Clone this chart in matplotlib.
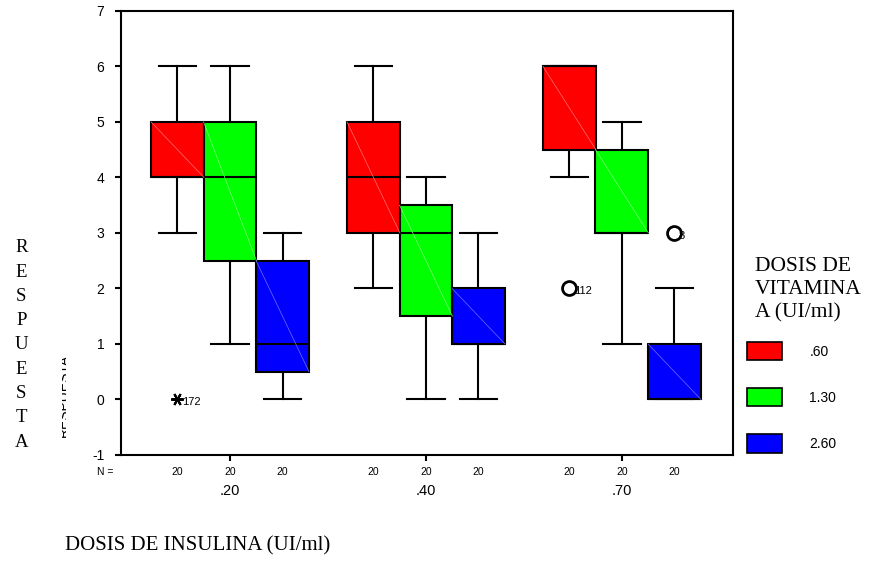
import matplotlib
matplotlib.use("Agg")
import matplotlib.pyplot as plt
from matplotlib.patches import Patch
from matplotlib.transforms import Bbox, blended_transform_factory

# datos
insulina = ['.20', '.40', '.70']
vitamina = ['.60', '1.30', '2.60']
colores = ['#ff0000', '#00ff00', '#0000ff']
diag = ['#ff7070', '#80ff80', '#7070ff']
n_casos = [[20, 20, 20], [20, 20, 20], [20, 20, 20]]

# (whislo, q1, med, q3, whishi) por dosis de insulina y vitamina
cajas = [
    [(3, 4, 4, 5, 6), (1, 2.5, 4, 5, 6), (0, 0.5, 1, 2.5, 3)],
    [(2, 3, 4, 5, 6), (0, 1.5, 3, 3.5, 4), (0, 1, 1, 2, 3)],
    [(4, 4.5, 6, 6, 6), (1, 3, 3, 4.5, 5), (0, 0, 0, 1, 2)],
]
# casos atipicos: (grupo, vitamina, valor, caso, marcador)
atipicos = [
    (0, 0, 0, '172', 'ext'),
    (2, 0, 2, '112', 'out'),
    (2, 2, 3, '8', 'out'),
]

fig = plt.figure(figsize=(8.88, 5.73), dpi=100)
ax = fig.add_axes([0.1363, 0.206, 0.689, 0.775])

desp = 0.268
ancho = 0.27
for g in range(3):
    for v in range(3):
        lo, q1, med, q3, hi = cajas[g][v]
        pos = g + 1 + (v - 1) * desp
        st = dict(whislo=lo, q1=q1, med=med, q3=q3, whishi=hi, fliers=[])
        ax.bxp([st], positions=[pos], widths=ancho, patch_artist=True,
               showfliers=False, capwidths=[0.19],
               boxprops=dict(facecolor=colores[v], edgecolor='black', linewidth=1.5),
               medianprops=dict(color='black', linewidth=1.5),
               whiskerprops=dict(color='black', linewidth=1.5),
               capprops=dict(color='black', linewidth=1.5))
        if q3 > q1:
            ax.plot([pos - ancho / 2, pos + ancho / 2], [q3, q1], color=diag[v],
                    linewidth=0.5, zorder=3)

for g, v, val, caso, tipo in atipicos:
    pos = g + 1 + (v - 1) * desp
    if tipo == 'ext':
        ax.plot(pos, val, marker=(6, 2, 90), markersize=9, color='black',
                markeredgewidth=1.5, zorder=4)
    else:
        ax.plot(pos, val, marker='o', markersize=10, markerfacecolor='none',
                markeredgecolor='black', markeredgewidth=2, zorder=4)
    ax.text(pos + 0.022, val - 0.05, caso, fontsize=8, ha='left', va='center',
            family='Liberation Sans')

ax.set_xlim(0.444, 3.566)
ax.set_ylim(-1, 7)
ax.set_yticks(range(-1, 8))
ax.set_yticklabels([str(i) for i in range(-1, 8)], family='Liberation Sans', fontsize=10)
ax.set_xticks([1, 2, 3])
ax.set_xticklabels(insulina, family='Liberation Sans', fontsize=10.5)
ax.tick_params(axis='x', length=4, width=1.5, pad=17)
ax.tick_params(axis='y', length=4, width=1.5, pad=8)
for s in ax.spines.values():
    s.set_linewidth(1.5)

# fila N =
tr = blended_transform_factory(ax.transData, ax.transAxes)
ax.text(-0.013, -0.038, 'N =', transform=ax.transAxes, fontsize=7.5, ha='right',
        va='center', family='Liberation Sans')
for g in range(3):
    for v in range(3):
        pos = g + 1 + (v - 1) * desp
        ax.text(pos, -0.038, str(n_casos[g][v]), transform=tr, fontsize=7.5,
                ha='center', va='center', family='Liberation Sans')

# etiquetas de ejes
fig.text(0.073, 0.047, 'DOSIS DE INSULINA (UI/ml)', family='Liberation Serif',
         fontsize=15, ha='left', va='center')
fig.text(0.024, 0.398, '\n'.join('RESPUESTA'), family='Liberation Serif',
         fontsize=13.5, ha='center', va='center', linespacing=1.56)
t = fig.text(0.0715, 0.31, 'RESPUESTA', family='Liberation Sans', fontsize=10,
             rotation=90, ha='center', va='center')
t.set_clip_box(Bbox.from_extents(62, 120, 66, 230))
t.set_clip_on(True)

# leyenda
fig.text(0.850, 0.494, 'DOSIS DE\nVITAMINA\nA (UI/ml)', family='Liberation Serif',
         fontsize=15.5, ha='left', va='center', linespacing=1.3)
handles = [Patch(facecolor=c, edgecolor='black', linewidth=1.2) for c in colores]
fig.legend(handles, vitamina, loc='upper left', bbox_to_anchor=(0.841, 0.403),
           frameon=False, prop=dict(family='Liberation Sans', size=10),
           handlelength=2.5, handleheight=1.65, labelspacing=2.0,
           handletextpad=2.0, borderpad=0, borderaxespad=0)

fig.savefig('out.png', dpi=100)
